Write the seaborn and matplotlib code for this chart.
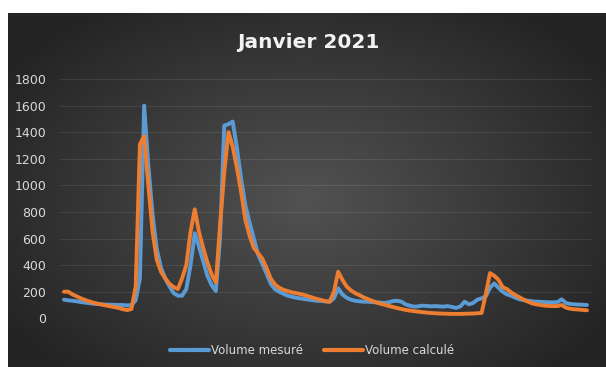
import numpy as np
import pandas as pd
import matplotlib
matplotlib.use("Agg")
import matplotlib.pyplot as plt
import seaborn as sns
from matplotlib.lines import Line2D

title = "Janvier 2021"
series_names = ["Volume mesuré", "Volume calculé"]
y_ticks = [0, 200, 400, 600, 800, 1000, 1200, 1400, 1600, 1800]

volume_mesure = [
    140, 135, 132, 128, 122, 118, 114, 110, 107, 105,
    103, 102, 101, 100, 100, 97, 100, 135, 300, 1600,
    1150, 780, 520, 380, 300, 240, 190, 170, 170, 220,
    400, 640, 540, 430, 320, 250, 205, 600, 1450, 1460,
    1480, 1280, 1050, 850, 720, 600, 480, 410, 340, 260,
    220, 200, 185, 170, 162, 155, 150, 145, 140, 136,
    132, 130, 127, 125, 150, 225, 180, 155, 140, 132,
    128, 125, 125, 122, 120, 118, 115, 120, 130, 132,
    125, 105, 95, 88, 90, 95, 93, 90, 92, 90,
    88, 92, 85, 78, 90, 125, 105, 115, 140, 150,
    165, 230, 262, 230, 200, 180, 170, 155, 143, 137,
    132, 128, 125, 124, 122, 120, 120, 122, 143, 115,
    108, 105, 103, 102, 100,
]

volume_calcule = [
    200, 200, 180, 165, 150, 138, 127, 117, 110, 103,
    96, 90, 84, 78, 68, 62, 70, 240, 1310, 1370,
    1000, 650, 440, 350, 300, 260, 235, 220, 300, 400,
    650, 820, 650, 530, 420, 330, 270, 700, 1100, 1400,
    1290, 1130, 950, 740, 620, 530, 490, 450, 380, 300,
    255, 230, 215, 205, 195, 190, 183, 175, 165, 155,
    145, 138, 128, 125, 200, 350, 290, 240, 210, 190,
    175, 158, 145, 132, 120, 110, 102, 93, 85, 77,
    70, 63, 58, 54, 50, 46, 43, 40, 38, 36,
    35, 34, 33, 33, 33, 34, 35, 36, 38, 40,
    180, 340, 320, 290, 235, 220, 195, 175, 158, 140,
    125, 112, 105, 100, 95, 93, 92, 92, 100, 80,
    72, 68, 66, 63, 60,
]

n = len(volume_mesure)
idx = np.arange(n)
df = pd.DataFrame({
    "t": np.concatenate([idx, idx]),
    "v": np.concatenate([volume_mesure, volume_calcule]),
    "s": [series_names[0]] * n + [series_names[1]] * n,
})

sns.set_theme(style="dark")
plt.rcParams['font.family'] = ['DejaVu Sans']

W, H = 606, 367
fig = plt.figure(figsize=(W / 100, H / 100), dpi=100, facecolor="white")

# dark gradient background panel
bg = fig.add_axes([8 / W, 0, (W - 8) / W, (H - 13) / H])
gx = np.linspace(-1, 1, 300)
gy = np.linspace(-1, 1, 200)
X, Y = np.meshgrid(gx, gy)
R = np.sqrt((X / 1.0) ** 2 + ((Y + 0.05) / 1.1) ** 2)
R = np.clip(R, 0, 1.2) / 1.2
c_center = np.array([82, 82, 82]) / 255
c_edge = np.array([36, 36, 36]) / 255
img = c_center[None, None, :] * (1 - R[..., None]) + c_edge[None, None, :] * R[..., None]
bg.imshow(img, aspect="auto", extent=[0, 1, 0, 1], origin="lower")
bg.set_axis_off()

# plot area
x0, x1 = 60, 592
y0, y1 = 318.3, 79
ax = fig.add_axes([x0 / W, (H - y0) / H, (x1 - x0) / W, (y0 - y1) / H])
ax.patch.set_alpha(0)
palette = {series_names[0]: "#5b9bd5", series_names[1]: "#ed7d31"}
sns.lineplot(data=df, x="t", y="v", hue="s", palette=palette, ax=ax,
             linewidth=2.8, legend=False, clip_on=False)

px_per_i = (587 - 64) / (n - 1)
ax.set_xlim(-(64 - x0) / px_per_i, (n - 1) + (x1 - 587) / px_per_i)
ax.set_ylim(0, 1800)
ax.set_yticks(y_ticks)
ax.set_yticklabels([str(v) for v in y_ticks], color="#d9d9d9", fontsize=9)
ax.set_xticks([])
ax.set_xlabel("")
ax.set_ylabel("")
ax.tick_params(axis="y", length=0, pad=10)
ax.grid(axis="y", color="white", alpha=0.09, linewidth=0.8)
ax.grid(axis="x", visible=False)
for sp in ax.spines.values():
    sp.set_visible(False)
ax.set_axisbelow(True)

fig.text(308 / W, 1 - 43 / H, title, ha="center", va="center",
         fontsize=14.5, fontweight="bold", color="#f2f2f2")

handles = [Line2D([], [], color=palette[s], linewidth=3) for s in series_names]
fig.legend(handles, series_names, loc="center", bbox_to_anchor=(312 / W, 1 - 351 / H),
           ncol=2, frameon=False, fontsize=8.5, handlelength=3.3,
           handletextpad=0.15, columnspacing=1.8, labelcolor="#d9d9d9")

fig.savefig("out.png", dpi=100, facecolor="white")
